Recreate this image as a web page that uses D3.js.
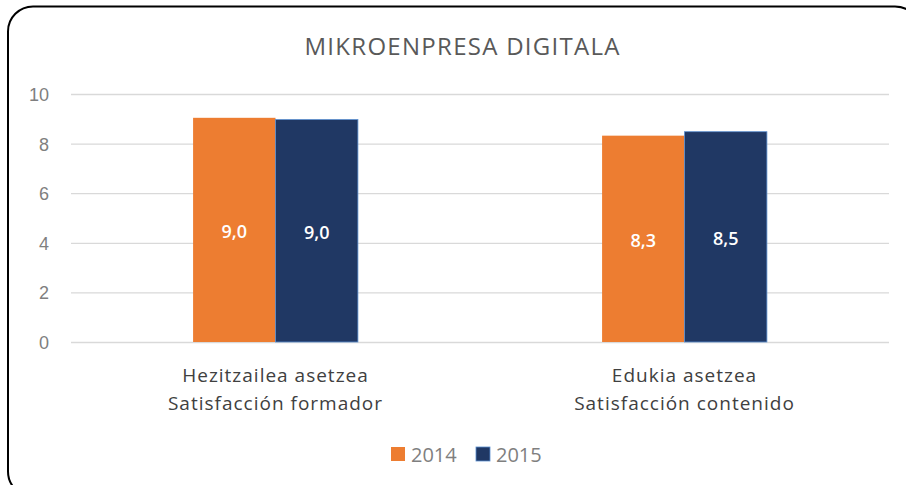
<!DOCTYPE html>
<html>
<head>
<meta charset="utf-8">
<script src="https://cdn.jsdelivr.net/npm/d3@7"></script>
<style>
  body { margin: 0; background: #fff; }
  svg { display: block; font-family: "Open Sans", sans-serif; }
</style>
</head>
<body>
<svg id="chart"></svg>
<script>
const categories = [
    ['Hezitzailea asetzea', 'Satisfacción formador'],
    ['Edukia asetzea', 'Satisfacción contenido']
];
const years = ['2014', '2015'];
const values2014 = [9.04, 8.32];
const values2015 = [8.97, 8.48];
const yTicks = [0, 2, 4, 6, 8, 10];
const colors = {'2014': '#ed7d31', '2015': '#203864'};

const size = {w: 906, h: 485};
const plot = {l: 71, r: 889, t: 94, b: 342};

const svg = d3.select('svg#chart')
    .attr('width', size.w)
    .attr('height', size.h);

// rounded frame, right and bottom run off the page
svg.append('rect')
    .attr('x', 8).attr('y', 6.5)
    .attr('width', 912).attr('height', 490)
    .attr('rx', 25)
    .attr('fill', '#fff')
    .attr('stroke', '#000')
    .attr('stroke-width', 2);

svg.append('text')
    .attr('x', 462).attr('y', 55)
    .attr('text-anchor', 'middle')
    .attr('fill', '#595959')
    .attr('font-size', 24)
    .attr('textLength', 315)
    .text('MIKROENPRESA DIGITALA');

let y = d3.scaleLinear().domain([0, 10]).range([plot.b, plot.t]);
let x = d3.scaleBand()
    .domain(d3.range(categories.length))
    .range([plot.l, plot.r])
    .paddingInner(0.597)
    .paddingOuter(0.2985);
let xSub = d3.scaleBand().domain(years).range([0, x.bandwidth()]);

// grid
let yAxis = d3.axisLeft(y).tickValues(yTicks).tickSize(-(plot.r - plot.l)).tickPadding(22);
let gy = svg.append('g')
    .attr('transform', `translate(${plot.l}, 0)`)
    .call(yAxis);
gy.select('.domain').remove();
gy.selectAll('line').attr('stroke', '#d9d9d9').attr('stroke-width', 1.3);
gy.selectAll('text')
    .attr('fill', '#7f7f7f')
    .attr('font-size', 18)
    .attr('dy', '0.36em');

let rows = [];
categories.forEach((c, i) => {
    rows.push({cat: i, year: '2014', value: values2014[i]});
    rows.push({cat: i, year: '2015', value: values2015[i]});
});

svg.append('g')
    .selectAll('rect')
    .data(rows)
    .join('rect')
    .attr('x', d => x(d.cat) + xSub(d.year))
    .attr('y', d => y(d.value))
    .attr('width', xSub.bandwidth())
    .attr('height', d => y(0) - y(d.value))
    .attr('fill', d => colors[d.year])
    .attr('stroke', d => d.year === '2015' ? '#5b8fd0' : 'none')
    .attr('stroke-width', 0.8);

svg.append('g')
    .selectAll('text')
    .data(rows)
    .join('text')
    .attr('x', d => x(d.cat) + xSub(d.year) + xSub.bandwidth() / 2)
    .attr('y', d => (y(d.value) + y(0)) / 2 + 2)
    .attr('text-anchor', 'middle')
    .attr('dy', '0.35em')
    .attr('fill', '#fff')
    .attr('font-weight', 600)
    .attr('font-size', 18)
    .text(d => d.value.toFixed(1).replace('.', ','));

// category labels
let gx = svg.append('g');
categories.forEach((lines, i) => {
    let t = gx.append('text')
        .attr('x', x(i) + x.bandwidth() / 2)
        .attr('y', 382)
        .attr('text-anchor', 'middle')
        .attr('fill', '#404040')
        .attr('font-size', 19)
        .attr('letter-spacing', 1);
    lines.forEach((l, j) => {
        t.append('tspan')
            .attr('x', x(i) + x.bandwidth() / 2)
            .attr('dy', j === 0 ? 0 : 28)
            .text(l);
    });
});

// legend
let legend = svg.append('g')
    .selectAll('g')
    .data(years)
    .join('g')
    .attr('transform', (d, i) => `translate(${391 + i * 85}, 447)`);
legend.append('rect')
    .attr('width', 14).attr('height', 14)
    .attr('fill', d => colors[d])
    .attr('stroke', d => d === '2015' ? '#5b8fd0' : 'none')
    .attr('stroke-width', 0.8);
legend.append('text')
    .attr('x', 20).attr('y', 14.5)
    .attr('fill', '#7f7f7f')
    .attr('font-size', 20)
    .text(d => d);
</script>
</body>
</html>
